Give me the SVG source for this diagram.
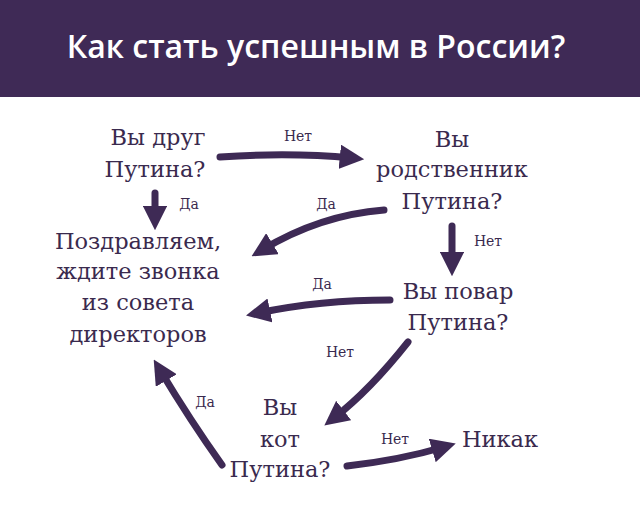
<svg xmlns="http://www.w3.org/2000/svg" width="640" height="512" viewBox="0 0 640 512">
<defs>
<style>
.t{font-family:"DejaVu Serif","Liberation Serif",serif;font-size:22.5px;fill:#3a2a4e;text-anchor:middle}
.s{font-family:"DejaVu Serif","Liberation Serif",serif;font-size:14px;fill:#3a2a4e;text-anchor:middle}
.a{fill:none;stroke:#3e2a55;stroke-width:7;stroke-linecap:round;marker-end:url(#h)}
</style>
<marker id="h" viewBox="0 0 10 10" refX="5" refY="5" markerWidth="3.5" markerHeight="3.5" orient="auto" markerUnits="strokeWidth"><path d="M0,0 L10,5 L0,10 z" fill="#3e2a55"/></marker>
</defs>
<rect width="640" height="512" fill="#fff"/>
<rect width="640" height="97" fill="#3f2a56"/>
<text x="316" y="58" style="font-family:'Open Sans','DejaVu Sans',sans-serif;font-size:32px;font-weight:600;fill:#fff;text-anchor:middle">Как стать успешным в России?</text>
<g id="connectors">
<path class="a" d="M220,157 Q290,152 352,158"/>
<path class="a" d="M155,193 L155,218"/>
<path class="a" d="M384,210 Q320,215 262,250"/>
<path class="a" d="M452,226 L452,264"/>
<path class="a" d="M390,300 Q320,300 258,313"/>
<path class="a" d="M408,342 Q370,390 334,418"/>
<path class="a" d="M222,465 Q190,420 160,370"/>
<path class="a" d="M347,466 Q400,460 444,447"/>
<text class="s" x="298" y="141">Нет</text>
<text class="s" x="189" y="209">Да</text>
<text class="s" x="326" y="209">Да</text>
<text class="s" x="488" y="246">Нет</text>
<text class="s" x="322" y="289">Да</text>
<text class="s" x="340" y="357">Нет</text>
<text class="s" x="205" y="407">Да</text>
<text class="s" x="395" y="444">Нет</text>
</g>
<g id="q1"><text class="t" x="158" y="145">Вы друг</text><text class="t" x="155" y="177">Путина?</text></g>
<g id="q2"><text class="t" x="452" y="147">Вы</text><text class="t" x="452" y="177">родственник</text><text class="t" x="452" y="209">Путина?</text></g>
<g id="win"><text class="t" x="138" y="249">Поздравляем,</text><text class="t" x="138" y="279">ждите звонка</text><text class="t" x="138" y="310">из совета</text><text class="t" x="138" y="342">директоров</text></g>
<g id="q3"><text class="t" x="458" y="299">Вы повар</text><text class="t" x="458" y="330">Путина?</text></g>
<g id="q4"><text class="t" x="280" y="415">Вы</text><text class="t" x="280" y="447">кот</text><text class="t" x="280" y="477">Путина?</text></g>
<g id="never"><text class="t" x="500" y="447">Никак</text></g>
</svg>
